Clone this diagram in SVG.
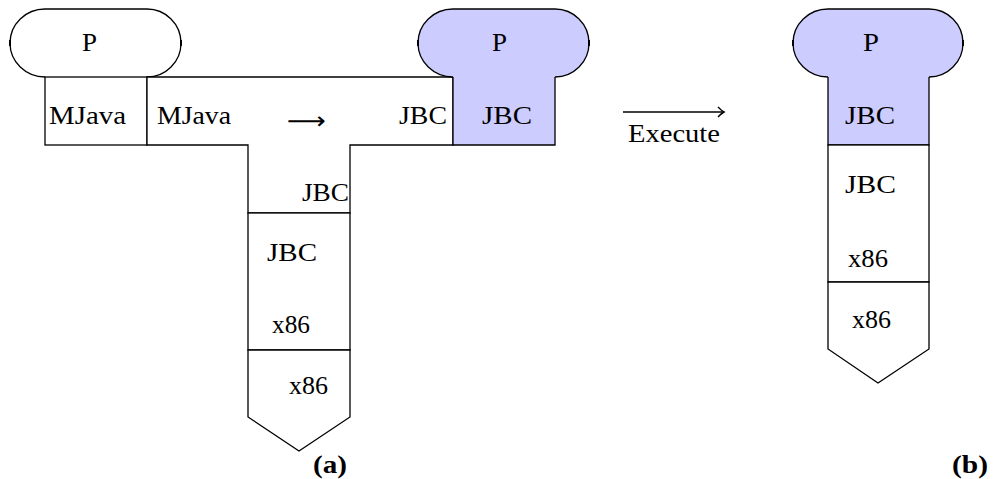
<svg xmlns="http://www.w3.org/2000/svg" width="994" height="479" viewBox="0 0 994 479">
  <style>
    .ln { fill: none; stroke: #000; stroke-width: 1.3; stroke-linejoin: miter; }
    .box { fill: #fff; stroke: #000; stroke-width: 1.3; }
    .blue { fill: #ccccff; }
    .wfill { fill: #fff; }
    .tick { stroke: #000; stroke-width: 2; }
    .arrow { fill: none; stroke: #000; stroke-width: 1.6; }
    .t { font-family: "Liberation Serif", "DejaVu Serif", serif; font-size: 25px; fill: #000; }
    .b { font-family: "Liberation Serif", "DejaVu Serif", serif; font-size: 25px; font-weight: bold; fill: #000; }
    .sym { font-family: "DejaVu Sans", sans-serif; font-size: 24px; fill: #000; }
  </style>
  <defs>
    <marker id="tip" viewBox="-8 -6 10 12" markerWidth="10" markerHeight="12" refX="0" refY="0" orient="auto" markerUnits="userSpaceOnUse">
      <path d="M-6,-5 Q-2,-1 0,0 Q-2,1 -6,5" fill="none" stroke="#000" stroke-width="1.4"/>
    </marker>
  </defs>

  <rect width="994" height="479" fill="#fff"/>

  <!-- (a) program P written in MJava -->
  <g id="progP-a">
    <path class="wfill" d="M45,77 A35,34 0 0 1 45,9 H147 A34,34 0 0 1 147,77 Z"/>
    <path class="ln" d="M45,77 A35,34 0 0 1 45,9 H147 A34,34 0 0 1 147,77"/>
    <line class="tick" x1="10" y1="40" x2="10" y2="46"/>
    <line class="tick" x1="181" y1="40" x2="181" y2="46"/>
    <text class="t" x="82" y="51" textLength="15" lengthAdjust="spacingAndGlyphs">P</text>
    <rect class="box" x="45" y="77" width="102" height="68"/>
    <text class="t" x="49" y="124" textLength="77" lengthAdjust="spacingAndGlyphs">MJava</text>
  </g>

  <!-- compiler MJava -> JBC -->
  <g id="compiler">
    <path class="box" d="M147,77 H453 V145 H350 V213 H248 V145 H147 Z"/>
    <text class="t" x="157" y="124" textLength="74" lengthAdjust="spacingAndGlyphs">MJava</text>
    <text class="sym" x="287" y="129" textLength="39" lengthAdjust="spacingAndGlyphs">⟶</text>
    <text class="t" x="399" y="124" textLength="48" lengthAdjust="spacingAndGlyphs">JBC</text>
    <text class="t" x="302" y="201" textLength="47" lengthAdjust="spacingAndGlyphs">JBC</text>
  </g>

  <!-- (a) resulting program P in JBC -->
  <g id="progP-a-out">
    <path class="blue" d="M453,77 A35,34 0 0 1 453,9 H555 A34,34 0 0 1 555,77 Z"/>
    <path class="ln" d="M453,77 A35,34 0 0 1 453,9 H555 A34,34 0 0 1 555,77"/>
    <line class="tick" x1="418" y1="40" x2="418" y2="46"/>
    <line class="tick" x1="589" y1="40" x2="589" y2="46"/>
    <text class="t" x="492" y="51" textLength="15" lengthAdjust="spacingAndGlyphs">P</text>
    <path class="blue" d="M453,77 H555 V145 H453 Z"/>
    <path class="ln" d="M453,77 V145 H555 V77"/>
    <text class="t" x="482" y="124" textLength="50" lengthAdjust="spacingAndGlyphs">JBC</text>
  </g>

  <!-- (a) JBC interpreter written in x86 -->
  <g id="interp-a">
    <rect class="box" x="248" y="213" width="102" height="137"/>
    <text class="t" x="267" y="261" textLength="50" lengthAdjust="spacingAndGlyphs">JBC</text>
    <text class="t" x="272" y="333" textLength="38" lengthAdjust="spacingAndGlyphs">x86</text>
  </g>

  <!-- (a) x86 machine -->
  <g id="machine-a">
    <path class="box" d="M248,350 H350 V417 L299,451 L248,417 Z"/>
    <text class="t" x="289" y="394" textLength="39" lengthAdjust="spacingAndGlyphs">x86</text>
  </g>

  <text class="b" x="313" y="473" textLength="34" lengthAdjust="spacingAndGlyphs">(a)</text>

  <!-- (b) program P in JBC -->
  <g id="progP-b">
    <path class="blue" d="M828,77 A35,34 0 0 1 828,9 H929 A34,34 0 0 1 929,77 Z"/>
    <path class="ln" d="M828,77 A35,34 0 0 1 828,9 H929 A34,34 0 0 1 929,77"/>
    <line class="tick" x1="793" y1="40" x2="793" y2="46"/>
    <line class="tick" x1="963" y1="40" x2="963" y2="46"/>
    <text class="t" x="863" y="51" textLength="16" lengthAdjust="spacingAndGlyphs">P</text>
    <path class="blue" d="M828,77 H929 V145 H828 Z"/>
    <path class="ln" d="M828,77 V145 H929 V77"/>
    <text class="t" x="845" y="124" textLength="50" lengthAdjust="spacingAndGlyphs">JBC</text>
  </g>

  <!-- (b) JBC interpreter written in x86 -->
  <g id="interp-b">
    <rect class="box" x="828" y="145" width="101" height="137"/>
    <text class="t" x="845" y="193" textLength="51" lengthAdjust="spacingAndGlyphs">JBC</text>
    <text class="t" x="848" y="267" textLength="40" lengthAdjust="spacingAndGlyphs">x86</text>
  </g>

  <!-- (b) x86 machine -->
  <g id="machine-b">
    <path class="box" d="M828,282 H929 V349 L878,383 L828,349 Z"/>
    <text class="t" x="852" y="328" textLength="39" lengthAdjust="spacingAndGlyphs">x86</text>
  </g>

  <text class="b" x="952" y="473" textLength="36" lengthAdjust="spacingAndGlyphs">(b)</text>

  <!-- execution step -->
  <g id="connectors">
    <line class="arrow" x1="623" y1="112" x2="724" y2="112" marker-end="url(#tip)"/>
    <text class="t" x="628" y="142" textLength="92" lengthAdjust="spacingAndGlyphs">Execute</text>
  </g>
</svg>
